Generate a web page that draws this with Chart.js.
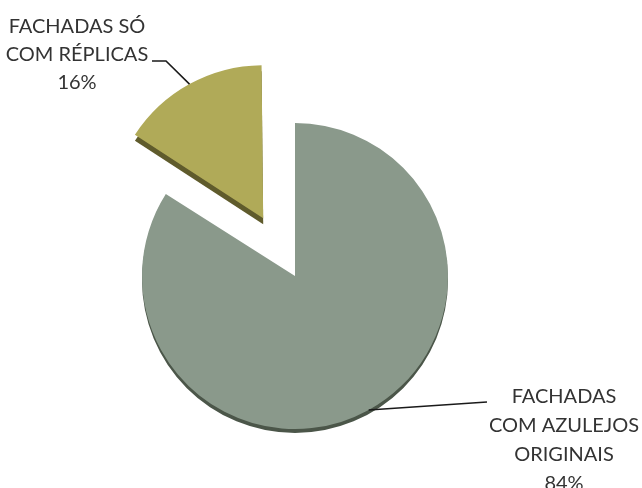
<!DOCTYPE html>
<html lang="pt">

<head>
    <meta charset="UTF-8">
    <title>Fachadas com azulejos</title>
    <script src="https://cdn.jsdelivr.net/npm/chart.js"></script>
    <style>
        body {
            margin: 0;
            background: #ffffff;
        }

        #wrap {
            width: 642px;
            height: 488px;
            overflow: hidden;
        }
    </style>
</head>

<body>
    <div id="wrap"><canvas id="fachadasChart" width="642" height="488"></canvas></div>

    <script>
        // Data
        const categories = ["FACHADAS COM AZULEJOS ORIGINAIS", "FACHADAS SÓ COM RÉPLICAS"];
        const labelLines = [["FACHADAS", "COM AZULEJOS", "ORIGINAIS"], ["FACHADAS SÓ", "COM RÉPLICAS"]];
        const percentages = [84, 16];

        const sliceColors = ["#8a998b", "#b0aa58"];
        const edgeColors = ["#4b5649", "#5f5b2c"];
        const edgeDepth = [4, 6];

        // label placement: text centre x, first baseline, line height, leader line path after the slice edge
        const labelPlacement = [
            { x: 564, y: 403, lh: 29, leader: [[487, 402]] },
            { x: 77, y: 33, lh: 28, leader: [[166, 61], [152, 61]] }
        ];

        // ArcElement.draw shifts a slice by offset / 4 and also grows its radius by
        // (offset / 4) * fix; the second part is undone below so exploded slices keep the pie size
        function growth(arc) {
            const circ = arc.endAngle - arc.startAngle;
            return (arc.options.offset || 0) / 4 * (1 - Math.sin(Math.min(Math.PI, circ || 0)));
        }

        function arcCentre(arc) {
            const mid = (arc.startAngle + arc.endAngle) / 2;
            const d = (arc.options.offset || 0) / 4;
            const r = arc.outerRadius + growth(arc);
            // pathArc trims the outer angles a little when the radius is grown
            const alpha = arc.endAngle - arc.startAngle;
            const beta = Math.max(0.001, alpha * r - growth(arc) / Math.PI) / r;
            const trim = (alpha - beta) / 2;
            return {
                x: arc.x + Math.cos(mid) * d, y: arc.y + Math.sin(mid) * d, mid: mid, r: r,
                start: arc.startAngle + trim, end: arc.endAngle - trim
            };
        }

        const sameSizePlugin = {
            id: "sameSize",
            afterDatasetUpdate(chart, args) {
                chart.getDatasetMeta(args.index).data.forEach(arc => {
                    arc.outerRadius = arc.outerRadius - growth(arc);
                });
            }
        };

        // dark rim under each slice for the raised look
        const rimPlugin = {
            id: "rim",
            beforeDatasetsDraw(chart) {
                const ctx = chart.ctx;
                chart.getDatasetMeta(0).data.forEach((arc, i) => {
                    const c = arcCentre(arc);
                    const dy = edgeDepth[i];
                    ctx.save();
                    ctx.fillStyle = edgeColors[i];
                    ctx.beginPath();
                    ctx.moveTo(c.x, c.y + dy);
                    ctx.arc(c.x, c.y + dy, c.r, c.start, c.end);
                    ctx.closePath();
                    ctx.fill();
                    ctx.restore();
                });
            }
        };

        // category names with percentage and a leader line from the arc midpoint
        const labelPlugin = {
            id: "sliceLabels",
            afterDatasetsDraw(chart) {
                const ctx = chart.ctx;
                chart.getDatasetMeta(0).data.forEach((arc, i) => {
                    const c = arcCentre(arc);
                    const place = labelPlacement[i];

                    ctx.save();
                    ctx.strokeStyle = "#1a1a1a";
                    ctx.lineWidth = 1.6;
                    ctx.beginPath();
                    ctx.moveTo(c.x + Math.cos(c.mid) * c.r, c.y + Math.sin(c.mid) * c.r);
                    place.leader.forEach(pt => ctx.lineTo(pt[0], pt[1]));
                    ctx.stroke();

                    const lines = labelLines[i].concat([percentages[i] + "%"]);
                    ctx.fillStyle = "#333333";
                    ctx.font = "20px Lato";
                    ctx.textAlign = "center";
                    ctx.textBaseline = "alphabetic";
                    lines.forEach((t, k) => ctx.fillText(t, place.x, place.y + k * place.lh));
                    ctx.restore();
                });
            }
        };

        new Chart(document.getElementById("fachadasChart"), {
            type: "pie",
            data: {
                labels: categories,
                datasets: [{
                    data: percentages,
                    backgroundColor: sliceColors,
                    borderWidth: 0,
                    offset: [0, 264]
                }]
            },
            options: {
                responsive: false,
                animation: false,
                radius: 153,
                layout: { padding: { left: 0, right: 52, top: 64, bottom: 0 } },
                plugins: {
                    legend: { display: false },
                    tooltip: { enabled: false }
                }
            },
            plugins: [sameSizePlugin, rimPlugin, labelPlugin]
        });
    </script>
</body>

</html>
